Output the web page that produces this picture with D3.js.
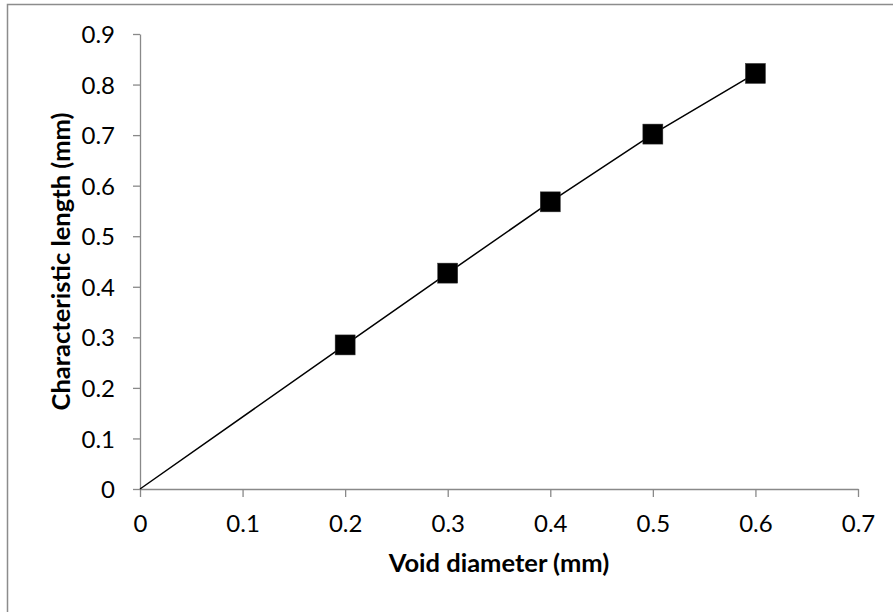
<!DOCTYPE html>
<meta charset="utf-8">
<script src="https://cdn.jsdelivr.net/npm/d3@7"></script>
<style>
body { margin: 0; background: #fff; font-family: Lato, sans-serif; }
.tick text { font-size: 24px; fill: #000; font-family: Lato, sans-serif; }
.axis path, .axis line { stroke: #898989; stroke-width: 1.3px; }
.title { font-size: 25.5px; font-weight: bold; font-family: Lato, sans-serif; }
</style>
<body>
<script>
// data
var voidDiameter = [0.2, 0.3, 0.4, 0.5, 0.6];
var charLength = [0.285, 0.427, 0.568, 0.702, 0.822];
var xTicks = [0, 0.1, 0.2, 0.3, 0.4, 0.5, 0.6, 0.7];
var yTicks = [0, 0.1, 0.2, 0.3, 0.4, 0.5, 0.6, 0.7, 0.8, 0.9];

var w = 893, h = 612,
    margins = {top: 34, right: 35, bottom: 123, left: 140};

var svg = d3.select("body").append("svg")
    .attr("width", w)
    .attr("height", h);

// chart frame (right and bottom run off the picture)
svg.append("rect")
    .attr("x", 7.5).attr("y", 4.5)
    .attr("width", 1000).attr("height", 1000)
    .attr("fill", "none")
    .attr("stroke", "#8c8c8c")
    .attr("stroke-width", 1.5);

var x = d3.scaleLinear().domain([0, 0.7]).range([margins.left, w - margins.right]);
var y = d3.scaleLinear().domain([0, 0.9]).range([h - margins.bottom, margins.top]);

svg.append("g")
    .attr("class", "axis")
    .attr("transform", "translate(0," + y(0) + ")")
    .call(d3.axisBottom(x).tickValues(xTicks).tickSize(8).tickSizeOuter(0).tickPadding(18)
        .tickFormat(function(d) { return d === 0 ? "0" : d3.format(".1f")(d); }));

svg.append("g")
    .attr("class", "axis")
    .attr("transform", "translate(" + x(0) + ",0)")
    .call(d3.axisLeft(y).tickValues(yTicks).tickSize(7).tickSizeOuter(0).tickPadding(18)
        .tickFormat(function(d) { return d === 0 ? "0" : d3.format(".1f")(d); }))
    .selectAll(".tick text").attr("dy", "0.36em");

// line through origin and the points
var linePts = [[0, 0]].concat(voidDiameter.map(function(d, i) { return [d, charLength[i]]; }));
svg.append("path")
    .datum(linePts)
    .attr("fill", "none")
    .attr("stroke", "#000")
    .attr("stroke-width", 1.5)
    .attr("d", d3.line().x(function(d) { return x(d[0]); }).y(function(d) { return y(d[1]); }));

svg.append("g")
    .selectAll("rect")
    .data(voidDiameter)
    .enter()
    .append("rect")
    .attr("x", function(d) { return x(d) - 10; })
    .attr("y", function(d, i) { return y(charLength[i]) - 10; })
    .attr("width", 20)
    .attr("height", 20)
    .attr("fill", "#000")
    .attr("stroke", "#333")
    .attr("stroke-width", 0.5);

svg.append("text")
    .attr("class", "title")
    .attr("x", (x(0) + x(0.7)) / 2)
    .attr("y", 572)
    .attr("text-anchor", "middle")
    .text("Void diameter (mm)");

svg.append("text")
    .attr("class", "title")
    .attr("transform", "translate(70," + (y(0) + y(0.9)) / 2 + ") rotate(-90)")
    .attr("text-anchor", "middle")
    .text("Characteristic length (mm)");
</script>
</body>
</html>
